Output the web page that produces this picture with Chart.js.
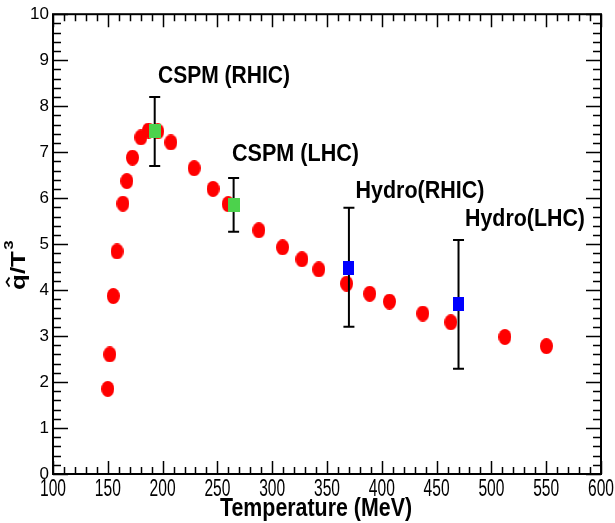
<!DOCTYPE html>
<html><head><meta charset="utf-8">
<script src="https://cdn.jsdelivr.net/npm/chart.js@4/dist/chart.umd.min.js"></script>
<style>html,body{margin:0;padding:0;background:#fff;} canvas{display:block;}</style>
</head><body>
<canvas id="c" width="615" height="523"></canvas>
<script>
// ---- data ----
const latticeT = [150, 151.8, 155, 158.4, 163.8, 167.4, 172.5, 180.2, 187.1, 195.6, 207.5, 228.8, 246, 259.8, 287.8, 309.5, 327.1, 342.5, 367.9, 389, 407, 437.4, 463, 512.3, 550.2];
const latticeQ = [1.85, 2.6, 3.87, 4.84, 5.88, 6.37, 6.88, 7.32, 7.47, 7.45, 7.21, 6.65, 6.2, 5.87, 5.3, 4.93, 4.67, 4.45, 4.14, 3.92, 3.75, 3.49, 3.3, 2.98, 2.78];
const cspmT = [192.8, 264.8];
const cspmQ = [7.45, 5.86];
const cspmHigh = [8.2, 6.44];
const cspmLow = [6.7, 5.27];
const hydroT = [370, 470];
const hydroQ = [4.49, 3.69];
const hydroHigh = [5.79, 5.09];
const hydroLow = [3.2, 2.29];
const labelTexts = ["CSPM (RHIC)", "CSPM (LHC)", "Hydro(RHIC)", "Hydro(LHC)"];
const xRange = [100, 600];
const yRange = [0, 10];
const xTitle = "Temperature (MeV)";

function marker(w, h, color, shape) {
  const c = document.createElement('canvas');
  c.width = w; c.height = h;
  const g = c.getContext('2d');
  g.fillStyle = color;
  if (shape === 'ellipse') { g.beginPath(); g.ellipse(w/2, h/2, w/2, h/2, 0, 0, Math.PI*2); g.fill(); }
  else g.fillRect(0, 0, w, h);
  return c;
}
const redDot = marker(13, 16, '#ff0000', 'ellipse');
const greenSq = marker(12, 14, '#4cd24c', 'rect');
const blueSq = marker(11, 14, '#0000ff', 'rect');

const toPts = (xs, ys) => xs.map((x, i) => ({x, y: ys[i]}));

const errorBars = {
  id: 'errorBars',
  afterDatasetDraw(chart, args) {
    if (args.index !== 0) return;
    const ctx = chart.ctx, xs = chart.scales.x, ys = chart.scales.y;
    ctx.save();
    ctx.strokeStyle = '#000'; ctx.lineWidth = 2;
    const draw = (T, hi, lo) => T.forEach((t, i) => {
      const px = xs.getPixelForValue(t), y1 = ys.getPixelForValue(hi[i]), y2 = ys.getPixelForValue(lo[i]);
      ctx.beginPath();
      ctx.moveTo(px, y1); ctx.lineTo(px, y2);
      ctx.moveTo(px - 5.5, y1); ctx.lineTo(px + 5.5, y1);
      ctx.moveTo(px - 5.5, y2); ctx.lineTo(px + 5.5, y2);
      ctx.stroke();
    });
    draw(cspmT, cspmHigh, cspmLow);
    draw(hydroT, hydroHigh, hydroLow);
    ctx.restore();
  }
};

const frameAndText = {
  id: 'frameAndText',
  afterDraw(chart) {
    const ctx = chart.ctx, xs = chart.scales.x, ys = chart.scales.y, a = chart.chartArea;
    ctx.save();
    ctx.strokeStyle = '#000';
    ctx.lineWidth = 1.5;
    ctx.beginPath();
    for (let v = xRange[0]; v <= xRange[1] + 1e-6; v += 10) {
      const px = Math.round(xs.getPixelForValue(v)) + 0.5;
      const len = (Math.round(v) % 50 === 0) ? 13 : 7;
      ctx.moveTo(px, a.bottom); ctx.lineTo(px, a.bottom - len);
      ctx.moveTo(px, a.top); ctx.lineTo(px, a.top + len);
    }
    for (let k = 0; k <= 50; k++) {
      const v = k * 0.2;
      const py = Math.round(ys.getPixelForValue(v)) + 0.5;
      const len = (k % 5 === 0) ? 15 : 8;
      ctx.moveTo(a.left, py); ctx.lineTo(a.left + len, py);
      ctx.moveTo(a.right, py); ctx.lineTo(a.right - len, py);
    }
    ctx.stroke();
    ctx.lineWidth = 2;
    ctx.strokeRect(a.left, a.top, a.right - a.left, a.bottom - a.top);

    ctx.fillStyle = '#000';
    // x tick labels (tall, narrow, from the scale's own ticks)
    ctx.textAlign = 'center'; ctx.textBaseline = 'alphabetic';
    ctx.font = '23px "Liberation Sans", Arial, sans-serif';
    xs.ticks.forEach(t => {
      ctx.fillText(String(t.value), xs.getPixelForValue(t.value), 496, 26);
    });

    // annotations
    const ann = chart.options.plugins.frameAndText.labels;
    ctx.textAlign = 'left';
    ctx.font = 'bold 23px "Liberation Sans", Arial, sans-serif';
    labelTexts.forEach((t, i) => {
      const p = ann[i];
      ctx.fillText(t, xs.getPixelForValue(p.x), ys.getPixelForValue(p.y), p.w);
    });

    // x title
    ctx.font = 'bold 25px "Liberation Sans", Arial, sans-serif';
    ctx.fillText(xTitle, 220, 516, 192);

    // y title  q-hat / T^3
    ctx.save();
    ctx.translate(25, 290);
    ctx.rotate(-Math.PI / 2);
    ctx.scale(1.3, 1);
    ctx.font = 'bold 20px "Liberation Sans", Arial, sans-serif';
    const wq = ctx.measureText('q').width;
    ctx.fillText('q', 0, 0);
    ctx.lineWidth = 1.6;
    ctx.beginPath();
    ctx.moveTo(wq/2 - 3.5, -15.5); ctx.lineTo(wq/2, -18.5); ctx.lineTo(wq/2 + 3.5, -15.5);
    ctx.stroke();
    ctx.fillText('/T', wq, 0);
    const wT = ctx.measureText('/T').width;
    ctx.font = 'bold 13px "Liberation Sans", Arial, sans-serif';
    ctx.fillText('3', wq + wT + 1, -12);
    ctx.restore();
    ctx.restore();
  }
};

new Chart(document.getElementById('c'), {
  type: 'scatter',
  data: {
    datasets: [
      { label: 'lattice', order: 3, data: toPts(latticeT, latticeQ), pointStyle: redDot, pointRadius: 7, backgroundColor: '#ff0000', borderWidth: 0 },
      { label: 'CSPM', order: 2, data: toPts(cspmT, cspmQ), pointStyle: greenSq, pointRadius: 7, backgroundColor: '#4cd24c', borderWidth: 0 },
      { label: 'Hydro', order: 1, data: toPts(hydroT, hydroQ), pointStyle: blueSq, pointRadius: 7, backgroundColor: '#0000ff', borderWidth: 0 }
    ]
  },
  options: {
    responsive: false,
    animation: false,
    devicePixelRatio: 1,
    layout: { padding: { top: 13, right: 14, left: 0, bottom: 0 } },
    plugins: {
      legend: { display: false },
      tooltip: { enabled: false },
      frameAndText: {
        labels: [
          { x: 195.8, y: 8.51, w: 132 },
          { x: 263.3, y: 6.81, w: 127 },
          { x: 376, y: 6.0, w: 129 },
          { x: 475.9, y: 5.39, w: 120 }
        ]
      }
    },
    scales: {
      x: {
        type: 'linear', min: xRange[0], max: xRange[1],
        grid: { display: false, drawTicks: false },
        border: { display: false },
        ticks: { stepSize: 50, display: false },
        afterFit(s) { s.height = 49; }
      },
      y: {
        type: 'linear', min: yRange[0], max: yRange[1],
        grid: { display: false, drawTicks: false },
        border: { display: false },
        ticks: { stepSize: 1, color: '#000', padding: 4, font: { family: '"Liberation Sans", Arial, sans-serif', size: 17 } },
        afterFit(s) { s.width = 53; }
      }
    }
  },
  plugins: [errorBars, frameAndText]
});
</script>
</body></html>
